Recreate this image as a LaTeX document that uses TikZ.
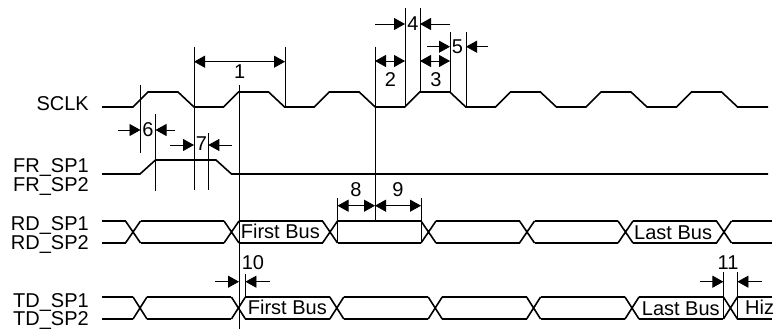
\documentclass[tikz,border=0pt]{standalone}
\usepackage{fontspec}
\setmainfont{Liberation Sans}
\usetikzlibrary{arrows.meta}
\begin{document}
\begin{tikzpicture}[x=1pt,y=-1pt]

    \tikzset{
      wave/.style={line width=1.6pt},
      guide/.style={line width=0.8pt},
      dimin/.style={line width=0.8pt, -{Triangle[length=11pt,width=12pt]}},
      dimboth/.style={line width=0.8pt, {Triangle[length=11pt,width=12pt]}-{Triangle[length=11pt,width=12pt]}},
      sig/.style={anchor=base east, inner sep=0pt, font=\fontsize{20}{20}\selectfont},
      num/.style={anchor=center, inner sep=0pt, font=\fontsize{20}{20}\selectfont},
      buslbl/.style={anchor=base west, inner sep=0pt, font=\fontsize{20}{20}\selectfont},
    }
    \useasboundingbox (0,0) rectangle (774,329);

	\draw [color={black}] (89,110.5) node (sclk) [sig] {SCLK};
	\draw [color={black}] (89,172) node (frone) [sig] {FR\_SP1};
	\draw [color={black}] (89,191) node (frtwo) [sig] {FR\_SP2};
	\draw [color={black}] (89,230.5) node (rdone) [sig] {RD\_SP1};
	\draw [color={black}] (89,249) node (rdtwo) [sig] {RD\_SP2};
	\draw [color={black}] (89,307) node (tdone) [sig] {TD\_SP1};
	\draw [color={black}] (89,325.5) node (tdtwo) [sig] {TD\_SP2};

	\draw[wave] (102,107) \foreach \k in {0,...,6}{
	  -- ({133+90.6*\k},107) -- ({148+90.6*\k},92) -- ({178+90.6*\k},92) -- ({194+90.6*\k},107)
	} -- (768,107);
	\draw[wave] (102,174) -- (140,174) -- (155.5,160) -- (216,160) -- (231.5,174) -- (768,174);

	\draw[wave] (102,221) -- (125.5,221) (102,243) -- (125.5,243);
	\foreach \k in {0,...,6}{
	  \draw[wave] ({125.5+98.5*\k},221) -- ++(15,22) ({125.5+98.5*\k},243) -- ++(15,-22);
	}
	\foreach \k in {0,...,5}{
	  \draw[wave] ({140.5+98.5*\k},221) -- ({224+98.5*\k},221) ({140.5+98.5*\k},243) -- ({224+98.5*\k},243);
	}
	\draw[wave] (731.5,221) -- (772,221) (731.5,243) -- (772,243);

	\draw[wave] (102,297) -- (133,297) (102,319) -- (133,319);
	\foreach \k in {0,...,6}{
	  \draw[wave] ({133+98.4*\k},297) -- ++(14,22) ({133+98.4*\k},319) -- ++(14,-22);
	}
	\foreach \k in {0,...,5}{
	  \draw[wave] ({147+98.4*\k},297) -- ({231.4+98.4*\k},297) ({147+98.4*\k},319) -- ({231.4+98.4*\k},319);
	}
	\draw[wave] (737.4,297) -- (772,297) (737.4,319) -- (772,319);

	\draw[guide] (140.5,85) -- (140.5,153);
	\draw[wave] (155.5,114) -- (155.5,191);
	\draw[guide] (194,47) -- (194,190);
	\draw[guide] (208.3,133) -- (208.3,190);
	\draw[guide] (239,85) -- (239,329);
	\draw[guide] (285,47) -- (285,107);
	\draw[guide] (375,47) -- (375,221);
	\draw[guide] (405,8) -- (405,107);
	\draw[guide] (420,8) -- (420,92);
	\draw[guide] (450,32) -- (450,92);
	\draw[guide] (466,32) -- (466,107);
	\draw[guide] (337.5,198) -- (337.5,243);
	\draw[guide] (421,198) -- (421,243);
	\draw[guide] (245.4,274) -- (245.4,297);
	\draw[guide] (723.4,272) -- (723.4,319);
	\draw[guide] (737.4,272) -- (737.4,319);

	\draw[dimboth] (194,61.7) -- (285,61.7);
	\draw[dimboth] (375,61) -- (405,61);
	\draw[dimboth] (420,61) -- (450,61);
	\draw[dimin] (375,24) -- (405,24);
	\draw[dimin] (450,24) -- (420,24);
	\draw[dimin] (427,46.7) -- (450,46.7);
	\draw[dimin] (488,46.7) -- (466,46.7);
	\draw[dimin] (118,130) -- (140.5,130);
	\draw[dimin] (175,130) -- (155.5,130);
	\draw[dimin] (170,145) -- (194,145);
	\draw[dimin] (231.7,145) -- (208.3,145);
	\draw[dimboth] (337.5,205.7) -- (375,205.7);
	\draw[dimboth] (375,205.7) -- (421,205.7);
	\draw[dimin] (215,281.7) -- (239,281.7);
	\draw[dimin] (270,281.7) -- (245.4,281.7);
	\draw[dimin] (700,281.7) -- (723.4,281.7);
	\draw[dimin] (761.7,281.7) -- (737.4,281.7);

	\draw [color={black}] (239.7,72) node (tone) [num] {1};
	\draw [color={black}] (390.5,80) node (ttwo) [num] {2};
	\draw [color={black}] (436,80) node (tthree) [num] {3};
	\draw [color={black}] (413,23.7) node (tfour) [num] {4};
	\draw [color={black}] (457.5,47) node (tfive) [num] {5};
	\draw [color={black}] (148,130) node (tsix) [num] {6};
	\draw [color={black}] (201.5,144) node (tseven) [num] {7};
	\draw [color={black}] (356,189.5) node (teight) [num] {8};
	\draw [color={black}] (398,189.5) node (tnine) [num] {9};
	\draw [color={black}] (253,263) node (tten) [num] {10};
	\draw [color={black}] (728,263) node (televen) [num] {11};

	\draw [color={black}] (240.7,238.5) node (rdfirst) [buslbl] {First Bus};
	\draw [color={black}] (247.7,314) node (tdfirst) [buslbl] {First Bus};
	\draw [color={black}] (634,239) node (rdlast) [buslbl] {Last Bus};
	\draw [color={black}] (641.7,315) node (tdlast) [buslbl] {Last Bus};
	\draw [color={black}] (745,314.5) node (tdhiz) [buslbl] {Hiz};

\end{tikzpicture}
\end{document}
